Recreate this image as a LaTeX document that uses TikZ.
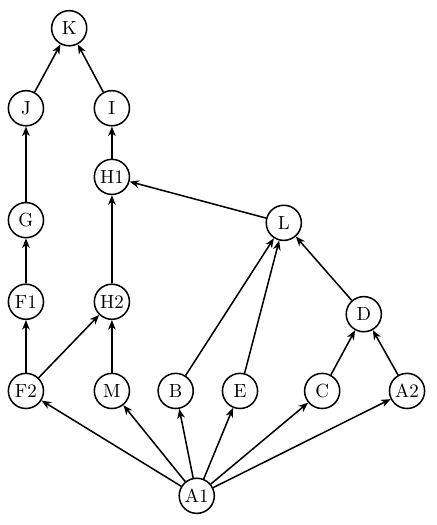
\documentclass[tikz,border=0pt]{standalone}
\usetikzlibrary{arrows.meta}
\begin{document}
\begin{tikzpicture}

    \tikzstyle{roundnode} = [draw, thick, circle, minimum size=0.65cm, inner sep=0, text centered];
    \tikzstyle{arrow} = [thick, -{Stealth[length=5pt, width=4pt, inset=1.5pt]}];

    \useasboundingbox (0,0) rectangle (8.066,9.7125);

    % Top
    \node[roundnode] (K) at (1.28,9.19) {K};
    \node[roundnode] (J) at (0.48,7.71) {J};
    \node[roundnode] (I) at (2.07,7.71) {I};
    \node[roundnode] (H1) at (2.07,6.44) {H1};
    \node[roundnode] (G) at (0.48,5.64) {G};
    \node[roundnode] (L) at (5.25,5.59) {L};

    % Middle
    \node[roundnode] (F1) at (0.48,4.13) {F1};
    \node[roundnode] (H2) at (2.07,4.13) {H2};
    \node[roundnode] (D) at (6.73,3.90) {D};

    % Bottom row
    \node[roundnode] (F2) at (0.48,2.48) {F2};
    \node[roundnode] (M) at (2.07,2.48) {M};
    \node[roundnode] (B) at (3.25,2.48) {B};
    \node[roundnode] (E) at (4.44,2.48) {E};
    \node[roundnode] (C) at (5.96,2.48) {C};
    \node[roundnode] (A2) at (7.53,2.48) {A2};

    \node[roundnode] (A1) at (3.64,0.54) {A1};

    % Edges
    \draw [arrow] (J) -- (K);
    \draw [arrow] (I) -- (K);
    \draw [arrow] (G) -- (J);
    \draw [arrow] (H1) -- (I);
    \draw [arrow] (F1) -- (G);
    \draw [arrow] (H2) -- (H1);
    \draw [arrow] (L) -- (H1);
    \draw [arrow] (F2) -- (F1);
    \draw [arrow] (F2) -- (H2);
    \draw [arrow] (M) -- (H2);
    \draw [arrow] (B) -- (L);
    \draw [arrow] (E) -- (L);
    \draw [arrow] (D) -- (L);
    \draw [arrow] (C) -- (D);
    \draw [arrow] (A2) -- (D);

    \draw [arrow] (A1) -- (F2);
    \draw [arrow] (A1) -- (M);
    \draw [arrow] (A1) -- (B);
    \draw [arrow] (A1) -- (E);
    \draw [arrow] (A1) -- (C);
    \draw [arrow] (A1) -- (A2);

\end{tikzpicture}
\end{document}
